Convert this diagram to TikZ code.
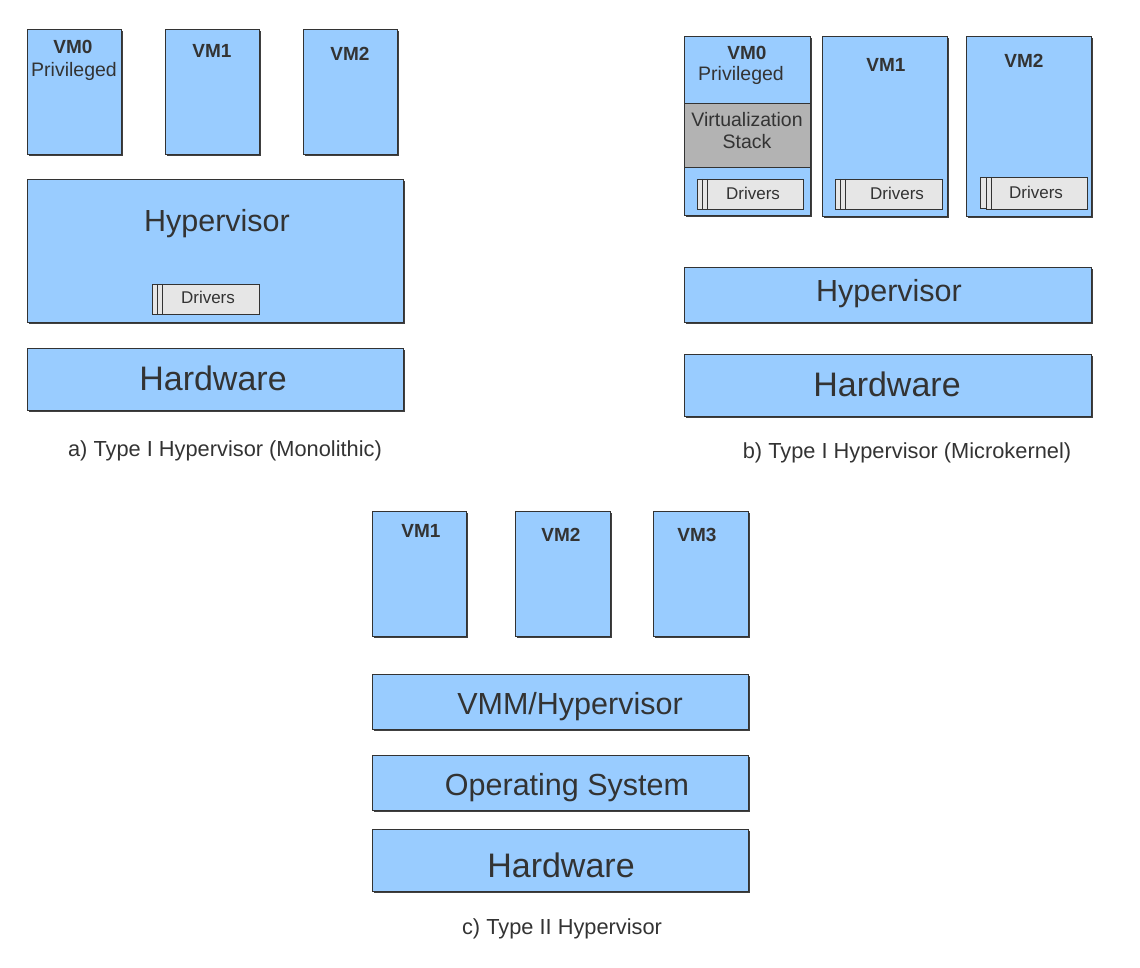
\documentclass[tikz,border=0pt]{standalone}
\usepackage{fontspec}
\setmainfont{Liberation Sans}
\usetikzlibrary{shadows}
\definecolor{vmblue}{HTML}{99CCFF}
\definecolor{stackgray}{HTML}{B3B3B3}
\definecolor{drvgray}{HTML}{E6E6E6}
\definecolor{txt}{HTML}{333333}
\begin{document}
\begin{tikzpicture}[x=1pt,y=-1pt,
  box/.style={draw=black!80, line width=0.8pt, fill=vmblue, anchor=north west, inner sep=0pt,
    drop shadow={shadow xshift=1.3pt, shadow yshift=-1.3pt, fill=black!75, opacity=1}},
  drvbox/.style={draw=black!80, line width=0.8pt, fill=drvgray, anchor=north west, inner sep=0pt,
    minimum width=106pt, minimum height=30pt},
  vmlabel/.style={font=\fontsize{19}{19}\selectfont\bfseries, text=txt, inner sep=0pt},
  smalllabel/.style={font=\fontsize{19.5}{19.5}\selectfont, text=txt, inner sep=0pt},
  drvlabel/.style={font=\fontsize{17}{17}\selectfont, text=txt, inner sep=0pt},
  layerlabel/.style={font=\fontsize{30.5}{30.5}\selectfont, text=txt, inner sep=0pt},
  hwlabel/.style={font=\fontsize{34}{34}\selectfont, text=txt, inner sep=0pt},
  caption/.style={font=\fontsize{21.8}{21.8}\selectfont, text=txt, inner sep=0pt}]
\useasboundingbox (0,0) rectangle (1140,968);

% ---------- a) Monolithic ----------
\node[box, minimum width=94pt, minimum height=125pt] (a0) at (27,29) {};
\node[box, minimum width=94pt, minimum height=125pt] (a1) at (165,29) {};
\node[box, minimum width=94pt, minimum height=125pt] (a2) at (303,29) {};
\node[vmlabel] (a0t) at (73,47) {VM0};
\node[smalllabel] (a0p) at (74,71) {Privileged};
\node[vmlabel] (a1t) at (212,51) {VM1};
\node[vmlabel] (a2t) at (350,54) {VM2};
\node[box, minimum width=376pt, minimum height=143pt] (ahyp) at (27,179) {};
\node[layerlabel] (ahypt) at (217,224) {Hypervisor};
\node[drvbox, minimum width=107pt] (adrv) at (152,284) {};
\draw[black!80, line width=0.8pt] ([xshift=5pt]adrv.north west) -- ([xshift=5pt]adrv.south west);
\draw[black!80, line width=0.8pt] ([xshift=10pt]adrv.north west) -- ([xshift=10pt]adrv.south west);
\node[drvlabel] (adrvt) at (208,297) {Drivers};
\node[box, minimum width=376pt, minimum height=62pt] (ahw) at (27,348) {};
\node[hwlabel] (ahwt) at (213,378) {Hardware};
\node[caption] (acap) at (225,451) {a) Type I Hypervisor (Monolithic)};

% ---------- b) Microkernel ----------
\node[box, minimum width=126pt, minimum height=179pt] (b0) at (684,36) {};
\node[draw=black!80, line width=0.8pt, fill=stackgray, anchor=north west, inner sep=0pt,
  minimum width=126pt, minimum height=64pt] (bstack) at (684,103) {};
\node[vmlabel] (b0t) at (747,53) {VM0};
\node[smalllabel] (b0p) at (741,75) {Privileged};
\node[smalllabel] (bst1) at (747,120) {Virtualization};
\node[smalllabel] (bst2) at (747,142) {Stack};
\node[drvbox] (bdrv0) at (697,179) {};
\draw[black!80, line width=0.8pt] ([xshift=5pt]bdrv0.north west) -- ([xshift=5pt]bdrv0.south west);
\draw[black!80, line width=0.8pt] ([xshift=10pt]bdrv0.north west) -- ([xshift=10pt]bdrv0.south west);
\node[drvlabel] (bdrv0t) at (753,193) {Drivers};

\node[box, minimum width=125pt, minimum height=180pt] (b1) at (822,36) {};
\node[vmlabel] (b1t) at (886,65) {VM1};
\node[drvbox, minimum width=107pt] (bdrv1) at (835,179) {};
\draw[black!80, line width=0.8pt] ([xshift=5pt]bdrv1.north west) -- ([xshift=5pt]bdrv1.south west);
\draw[black!80, line width=0.8pt] ([xshift=10pt]bdrv1.north west) -- ([xshift=10pt]bdrv1.south west);
\node[drvlabel] (bdrv1t) at (897,193) {Drivers};

\node[box, minimum width=125pt, minimum height=180pt] (b2) at (966,36) {};
\node[vmlabel] (b2t) at (1024,61) {VM2};
\node[drvbox, minimum width=102pt, minimum height=31pt] (bdrv2b) at (980,177) {};
\node[drvbox, minimum width=101pt, minimum height=32pt] (bdrv2) at (986,177) {};
\draw[black!80, line width=0.8pt] ([xshift=5pt]bdrv2.north west) -- ([xshift=5pt]bdrv2.south west);
\node[drvlabel] (bdrv2t) at (1036,192) {Drivers};

\node[box, minimum width=407pt, minimum height=55pt] (bhyp) at (684,267) {};
\node[layerlabel] (bhypt) at (889,294) {Hypervisor};
\node[box, minimum width=407pt, minimum height=62pt] (bhw) at (684,354) {};
\node[hwlabel] (bhwt) at (887,384) {Hardware};
\node[caption] (bcap) at (907,453) {b) Type I Hypervisor (Microkernel)};

% ---------- c) Type II ----------
\node[box, minimum width=94pt, minimum height=125pt] (c1) at (372,511) {};
\node[box, minimum width=95pt, minimum height=125pt] (c2) at (515,511) {};
\node[box, minimum width=95pt, minimum height=125pt] (c3) at (653,511) {};
\node[vmlabel] (c1t) at (421,531) {VM1};
\node[vmlabel] (c2t) at (561,535) {VM2};
\node[vmlabel] (c3t) at (697,535) {VM3};
\node[box, minimum width=376pt, minimum height=55pt] (cvmm) at (372,674) {};
\node[layerlabel] (cvmmt) at (570,707) {VMM/Hypervisor};
\node[box, minimum width=376pt, minimum height=55pt] (cos) at (372,755) {};
\node[layerlabel] (cost) at (567,788) {Operating System};
\node[box, minimum width=376pt, minimum height=62pt] (chw) at (372,829) {};
\node[hwlabel] (chwt) at (561,865) {Hardware};
\node[caption] (ccap) at (562,929) {c) Type II Hypervisor};
\end{tikzpicture}
\end{document}
